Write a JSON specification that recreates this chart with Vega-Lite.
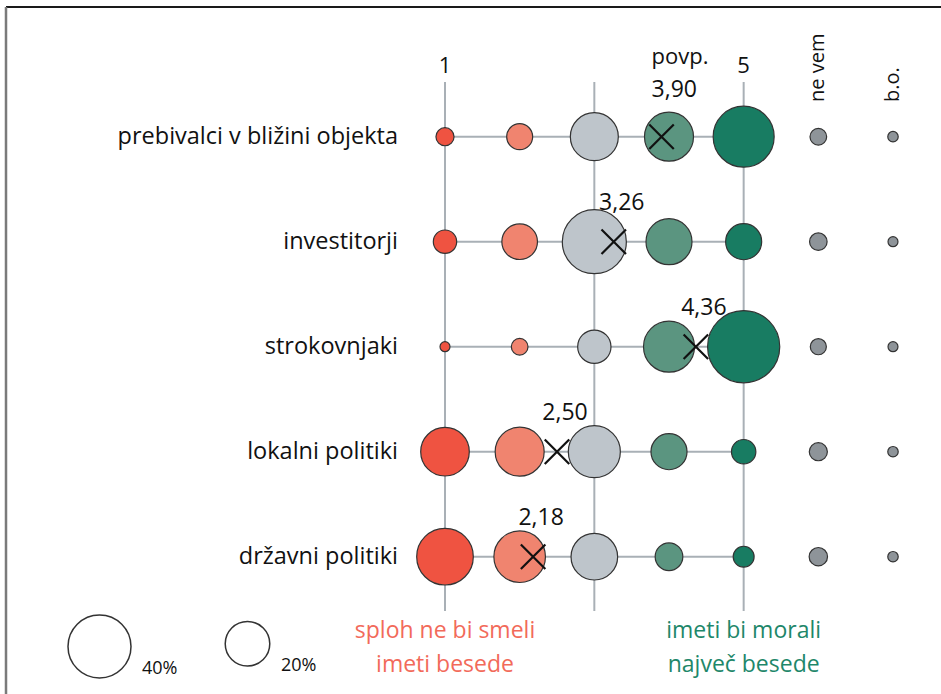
{
  "$schema": "https://vega.github.io/schema/vega-lite/v6.json",
  "width": 941,
  "height": 694,
  "autosize": {"type": "none"},
  "padding": 0,
  "background": "white",
  "config": {"view": {"stroke": null}, "axis": {"disable": true}, "font": "Open Sans"},
  "datasets": {
    "cells": [
      {"row": 1, "col": 1, "pct": 3.3}, {"row": 1, "col": 2, "pct": 6.8}, {"row": 1, "col": 3, "pct": 23.2}, {"row": 1, "col": 4, "pct": 24.2}, {"row": 1, "col": 5, "pct": 37.5}, {"row": 1, "col": 6, "pct": 2.8}, {"row": 1, "col": 7, "pct": 1.1},
      {"row": 2, "col": 1, "pct": 5.5}, {"row": 2, "col": 2, "pct": 12.8}, {"row": 2, "col": 3, "pct": 41.3}, {"row": 2, "col": 4, "pct": 21.3}, {"row": 2, "col": 5, "pct": 13.1}, {"row": 2, "col": 6, "pct": 3.1}, {"row": 2, "col": 7, "pct": 1.0},
      {"row": 3, "col": 1, "pct": 1.0}, {"row": 3, "col": 2, "pct": 2.8}, {"row": 3, "col": 3, "pct": 11.2}, {"row": 3, "col": 4, "pct": 26.2}, {"row": 3, "col": 5, "pct": 52.5}, {"row": 3, "col": 6, "pct": 2.6}, {"row": 3, "col": 7, "pct": 1.0},
      {"row": 4, "col": 1, "pct": 23.8}, {"row": 4, "col": 2, "pct": 24.2}, {"row": 4, "col": 3, "pct": 27.3}, {"row": 4, "col": 4, "pct": 13.1}, {"row": 4, "col": 5, "pct": 6.0}, {"row": 4, "col": 6, "pct": 3.3}, {"row": 4, "col": 7, "pct": 1.1},
      {"row": 5, "col": 1, "pct": 32.3}, {"row": 5, "col": 2, "pct": 26.8}, {"row": 5, "col": 3, "pct": 21.9}, {"row": 5, "col": 4, "pct": 7.7}, {"row": 5, "col": 5, "pct": 4.4}, {"row": 5, "col": 6, "pct": 3.4}, {"row": 5, "col": 7, "pct": 1.1}
    ],
    "groups": [
      {"row": 1, "name": "prebivalci v bližini objekta", "mean": 3.90, "meanLabel": "3,90"},
      {"row": 2, "name": "investitorji", "mean": 3.26, "meanLabel": "3,26"},
      {"row": 3, "name": "strokovnjaki", "mean": 4.36, "meanLabel": "4,36"},
      {"row": 4, "name": "lokalni politiki", "mean": 2.50, "meanLabel": "2,50"},
      {"row": 5, "name": "državni politiki", "mean": 2.18, "meanLabel": "2,18"}
    ],
    "grid": [{"col": 1}, {"col": 3}, {"col": 5}],
    "scaleHeads": [{"col": 1, "label": "1"}, {"col": 5, "label": "5"}],
    "extraHeads": [{"col": 6, "label": "ne vem"}, {"col": 7, "label": "b.o."}],
    "notes": [
      {"col": 1, "side": "neg", "text": "sploh ne bi smeli\nimeti besede"},
      {"col": 5, "side": "pos", "text": "imeti bi morali\nnajveč besede"}
    ]
  },
  "layer": [
    {
      "data": {"values": [{}]},
      "mark": {"type": "rule", "color": "#1a1a1a", "strokeWidth": 2},
      "encoding": {
        "x": {"datum": -4.8794, "type": "quantitative", "scale": {"domain": [-4.9598, 7.6429], "nice": false, "zero": false}},
        "x2": {"datum": 7.6429},
        "y": {"datum": -0.2352, "type": "quantitative", "scale": {"domain": [-0.3019, 6.3076], "nice": false, "zero": false, "reverse": true}}
      }
    },
    {
      "data": {"values": [{}]},
      "mark": {"type": "rule", "color": "#7a7a7a", "strokeWidth": 2.5},
      "encoding": {
        "x": {"datum": -4.8794, "type": "quantitative"},
        "y": {"datum": -0.2352, "type": "quantitative"},
        "y2": {"datum": 6.3076}
      }
    },
    {
      "data": {"name": "grid"},
      "mark": {"type": "rule", "color": "#a9b0b6", "strokeWidth": 2},
      "encoding": {
        "x": {"field": "col", "type": "quantitative"},
        "y": {"datum": 0.479, "type": "quantitative"},
        "y2": {"datum": 5.517}
      }
    },
    {
      "data": {"name": "groups"},
      "mark": {"type": "rule", "color": "#a9b0b6", "strokeWidth": 2},
      "encoding": {
        "x": {"datum": 1, "type": "quantitative"},
        "x2": {"datum": 5},
        "y": {"field": "row", "type": "quantitative"}
      }
    },
    {
      "data": {"name": "cells"},
      "mark": {"type": "circle", "opacity": 1, "stroke": "#333333", "strokeWidth": 1.2},
      "encoding": {
        "x": {"field": "col", "type": "quantitative", "scale": {"domain": [-4.9598, 7.6429], "nice": false, "zero": false}},
        "y": {"field": "row", "type": "quantitative", "scale": {"domain": [-0.3019, 6.3076], "nice": false, "zero": false, "reverse": true}},
        "size": {
          "field": "pct", "type": "quantitative",
          "scale": {"type": "linear", "domain": [0, 40], "range": [0, 3969], "zero": true, "nice": false},
          "legend": {
            "values": [40, 20],
            "orient": "none",
            "legendX": 67,
            "legendY": 614,
            "direction": "horizontal",
            "title": null,
            "padding": 0,
            "labelExpr": "datum.label + '%'",
            "labelFont": "Open Sans",
            "labelFontSize": 18,
            "labelColor": "#111111",
            "labelOffset": 10,
            "labelBaseline": "alphabetic",
            "columnPadding": 44,
            "symbolType": "circle",
            "symbolFillColor": "white",
            "symbolStrokeColor": "#333333",
            "symbolStrokeWidth": 1.5,
            "symbolOpacity": 1,
            "encode": {
              "symbols": {"update": {"fill": {"value": "white"}, "stroke": {"value": "#333333"}, "strokeWidth": {"value": 1.5}, "opacity": {"value": 1}}},
              "labels": {"update": {"dy": {"value": 27}}}
            }
          }
        },
        "color": {
          "field": "col", "type": "nominal",
          "scale": {"domain": [1, 2, 3, 4, 5, 6, 7], "range": ["#ef5341", "#f0846f", "#bec5cb", "#5b9580", "#187c62", "#8e9499", "#8e9499"]},
          "legend": null
        }
      }
    },
    {
      "data": {"name": "groups"},
      "mark": {"type": "point", "shape": "M-1,-1L1,1M-1,1L1,-1", "filled": false, "stroke": "#111111", "strokeWidth": 2.2, "size": 600, "opacity": 1},
      "encoding": {
        "x": {"field": "mean", "type": "quantitative"},
        "y": {"field": "row", "type": "quantitative"}
      }
    },
    {
      "data": {"name": "groups"},
      "transform": [{"filter": "datum.row > 1"}],
      "mark": {"type": "text", "fontSize": 23, "align": "center", "baseline": "middle", "dx": 8, "dy": -39, "color": "#111111"},
      "encoding": {
        "x": {"field": "mean", "type": "quantitative"},
        "y": {"field": "row", "type": "quantitative"},
        "text": {"field": "meanLabel"}
      }
    },
    {
      "data": {"name": "groups"},
      "transform": [{"filter": "datum.row == 1"}],
      "mark": {"type": "text", "fontSize": 23, "align": "left", "baseline": "middle", "dx": -10, "dy": -47, "color": "#111111"},
      "encoding": {
        "x": {"field": "mean", "type": "quantitative"},
        "y": {"field": "row", "type": "quantitative"},
        "text": {"field": "meanLabel"}
      }
    },
    {
      "data": {"name": "groups"},
      "transform": [{"filter": "datum.row == 1"}],
      "mark": {"type": "text", "fontSize": 22, "align": "left", "baseline": "middle", "dx": -10, "dy": -80, "color": "#111111"},
      "encoding": {
        "x": {"field": "mean", "type": "quantitative"},
        "y": {"field": "row", "type": "quantitative"},
        "text": {"value": "povp."}
      }
    },
    {
      "data": {"name": "groups"},
      "mark": {"type": "text", "fontSize": 23.5, "align": "right", "baseline": "middle", "color": "#111111"},
      "encoding": {
        "x": {"datum": 0.3705, "type": "quantitative"},
        "y": {"field": "row", "type": "quantitative"},
        "text": {"field": "name"}
      }
    },
    {
      "data": {"name": "scaleHeads"},
      "mark": {"type": "text", "fontSize": 22, "align": "center", "baseline": "middle", "color": "#111111"},
      "encoding": {
        "x": {"field": "col", "type": "quantitative"},
        "y": {"datum": 0.331, "type": "quantitative"},
        "text": {"field": "label"}
      }
    },
    {
      "data": {"name": "extraHeads"},
      "mark": {"type": "text", "fontSize": 20, "angle": 270, "align": "left", "baseline": "middle", "color": "#111111"},
      "encoding": {
        "x": {"field": "col", "type": "quantitative"},
        "y": {"datum": 0.6695, "type": "quantitative"},
        "text": {"field": "label"}
      }
    },
    {
      "data": {"name": "notes"},
      "mark": {"type": "text", "fontSize": 23, "align": "center", "baseline": "alphabetic", "lineBreak": "\n", "lineHeight": 34},
      "encoding": {
        "x": {"field": "col", "type": "quantitative"},
        "y": {"datum": 5.774, "type": "quantitative"},
        "text": {"field": "text"},
        "color": {"condition": {"test": "datum.side == 'neg'", "value": "#f26a5a"}, "value": "#1e876a"}
      }
    }
  ]
}
